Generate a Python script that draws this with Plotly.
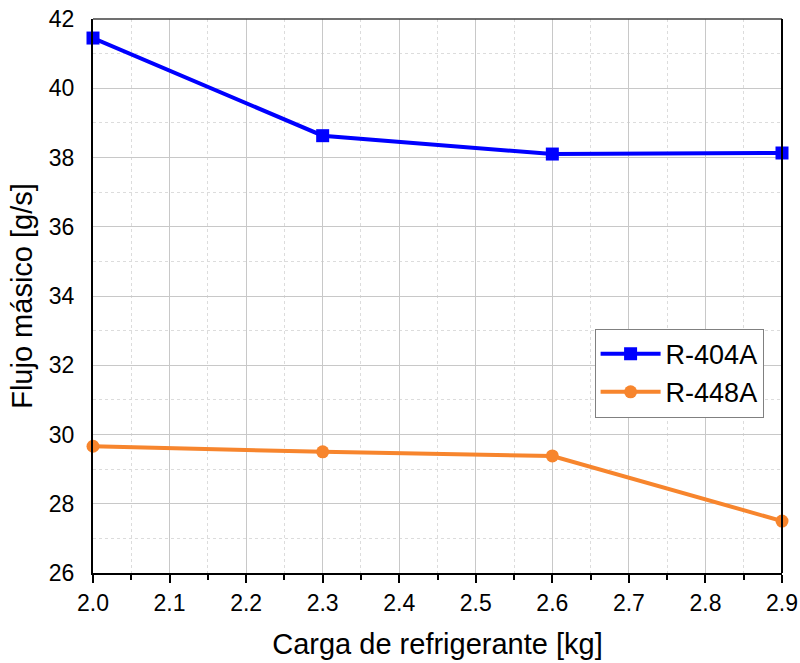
import plotly.graph_objects as go

carga = [2.0, 2.3, 2.6, 2.9]
r404a = [41.45, 38.63, 38.10, 38.13]
r448a = [29.66, 29.50, 29.38, 27.50]

fig = go.Figure()
fig.add_trace(go.Scatter(x=carga, y=r404a, name="R-404A", mode="lines+markers",
                         line=dict(color="#0000FF", width=4),
                         marker=dict(symbol="square", size=13, color="#0000FF"),
                         cliponaxis=False))
fig.add_trace(go.Scatter(x=carga, y=r448a, name="R-448A", mode="lines+markers",
                         line=dict(color="#F7852D", width=4),
                         marker=dict(symbol="circle", size=13, color="#F7852D"),
                         cliponaxis=False))

font = "Liberation Sans, Arial, sans-serif"
fig.update_layout(
    width=800, height=663,
    margin=dict(l=93, r=18, t=19, b=90),
    paper_bgcolor="white", plot_bgcolor="white",
    font=dict(family=font, color="black"),
    showlegend=True,
    legend=dict(x=0.728, y=0.441, xanchor="left", yanchor="top",
                bgcolor="white", bordercolor="#808080", borderwidth=1,
                font=dict(size=27, family=font), tracegroupgap=0,
                itemwidth=60),
    xaxis=dict(range=[2.0, 2.9], dtick=0.1, tick0=2.0, tickformat=".1f",
               automargin=False,
               showgrid=True, gridcolor="#C8C8C8", gridwidth=1,
               showline=True, linecolor="black", linewidth=2, mirror=False,
               ticks="outside", ticklen=8, tickwidth=2, tickcolor="black",
               tickfont=dict(size=23), zeroline=False,
               minor=dict(dtick=0.05, tick0=2.0, ticks="outside", ticklen=5, tickwidth=2,
                          tickcolor="black", showgrid=True, gridcolor="#DCDCDC",
                          griddash="3px,3px", gridwidth=1),
               title=dict(text="Carga de refrigerante [kg]", font=dict(size=29), standoff=19)),
    yaxis=dict(range=[26, 42], dtick=2, tick0=26,
               automargin=False,
               showgrid=True, gridcolor="#C8C8C8", gridwidth=1,
               showline=True, linecolor="black", linewidth=2,
               ticks="", tickfont=dict(size=23), zeroline=False,
               ticklabelstandoff=12,
               minor=dict(dtick=1, showgrid=True, gridcolor="#DCDCDC",
                          griddash="3px,3px", gridwidth=1),
               title=dict(text="Flujo másico [g/s]", font=dict(size=29), standoff=8)),
)
# top and right border
fig.add_shape(type="line", xref="paper", yref="paper", x0=0, x1=1, y0=1, y1=1,
              line=dict(color="#404040", width=1.5))
fig.add_shape(type="line", xref="paper", yref="paper", x0=1, x1=1, y0=0, y1=1,
              line=dict(color="black", width=2))

fig.write_html("out.html")
